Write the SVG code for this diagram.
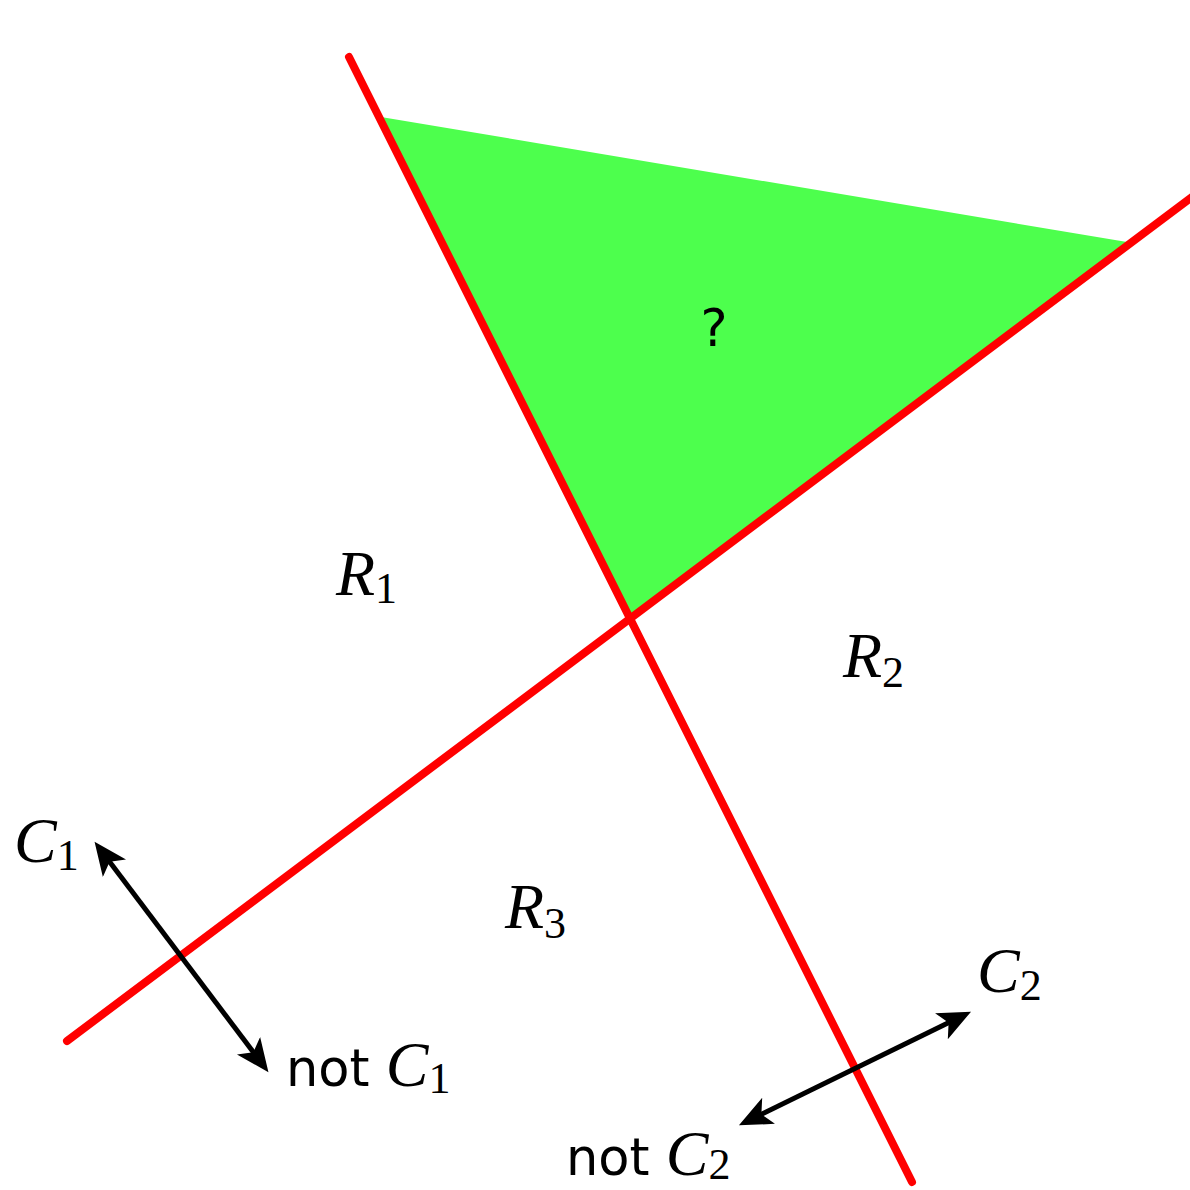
<svg xmlns="http://www.w3.org/2000/svg" width="1190" height="1190" viewBox="0 0 1190 1190">
  <style>
    .red { stroke: #ff0000; stroke-width: 8; stroke-linecap: round; fill: none; }
    .arr { stroke: #000; stroke-width: 5; fill: none; marker-start: url(#ah); marker-end: url(#ah); }
    .cal { font-family: "Liberation Serif", serif; font-style: italic; font-size: 64px; fill: #000; }
    .sub { font-family: "Liberation Serif", serif; font-style: normal; font-size: 44px; }
    .sans { font-family: "DejaVu Sans", "Liberation Sans", sans-serif; font-size: 51px; fill: #000; }
  </style>
  <defs>
    <marker id="ah" markerUnits="userSpaceOnUse" viewBox="0 -16 34 32" refX="14" refY="0" markerWidth="34" markerHeight="32" orient="auto-start-reverse">
      <path d="M0,-14.5 L33,0 L0,14.5 L8,0 Z" fill="#000"/>
    </marker>
  </defs>
  <rect width="1190" height="1190" fill="#fff"/>
  <g id="region-question">
    <polygon points="381,117 1127,242 629,618" fill="#4dff4d"/>
    <text class="sans" x="714" y="346" text-anchor="middle">?</text>
  </g>
  <g id="connectors">
    <line class="red" x1="349" y1="57" x2="912" y2="1182"/>
    <line class="red" x1="67" y1="1041" x2="1196" y2="194"/>
    <line class="arr" x1="106" y1="857" x2="257" y2="1057"/>
    <line class="arr" x1="756" y1="1117" x2="954" y2="1020"/>
  </g>
  <g id="R1"><text class="cal" x="336" y="595">R<tspan class="sub" dy="8">1</tspan></text></g>
  <g id="R2"><text class="cal" x="843" y="677">R<tspan class="sub" dy="10">2</tspan></text></g>
  <g id="R3"><text class="cal" x="505" y="928">R<tspan class="sub" dy="10">3</tspan></text></g>
  <g id="C1"><text class="cal" x="14" y="862">C<tspan class="sub" dy="8">1</tspan></text></g>
  <g id="notC1"><text class="sans" x="286" y="1086">not <tspan class="cal">C</tspan><tspan class="sub" dy="7">1</tspan></text></g>
  <g id="C2"><text class="cal" x="977" y="992">C<tspan class="sub" dy="8">2</tspan></text></g>
  <g id="notC2"><text class="sans" x="566" y="1175">not <tspan class="cal">C</tspan><tspan class="sub" dy="4">2</tspan></text></g>
</svg>
